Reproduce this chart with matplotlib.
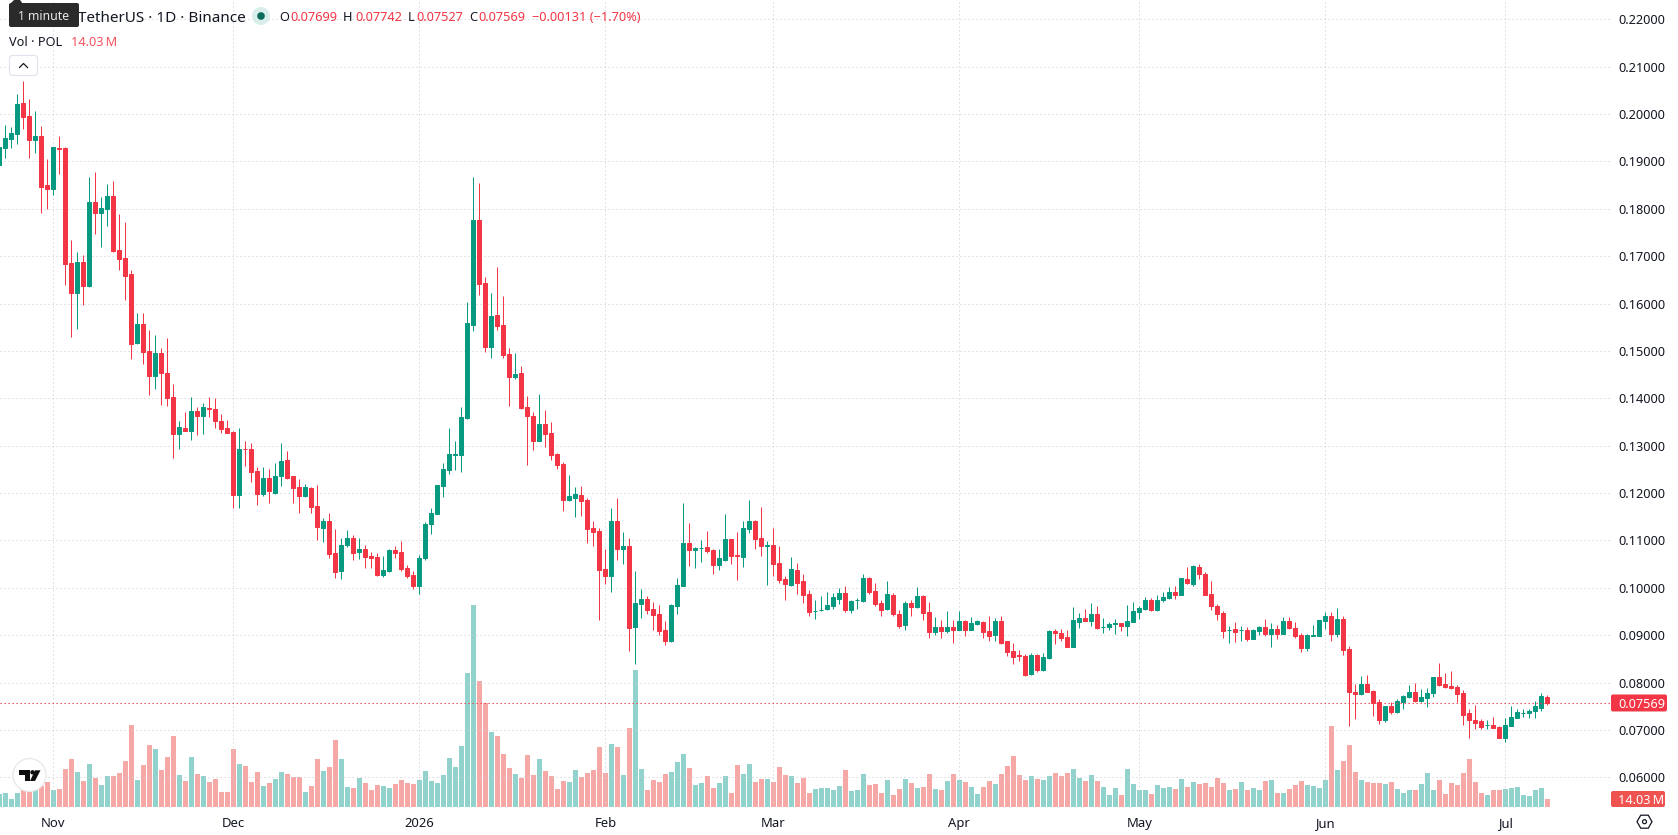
import numpy as np
import pandas as pd
import matplotlib
matplotlib.use("Agg")
import matplotlib.pyplot as plt
import matplotlib.dates as mdates
from matplotlib.patches import FancyBboxPatch, Circle, Polygon, RegularPolygon

dates = pd.date_range("2025-10-23", "2026-07-08")

opens = [
    .1892, .1928, .1947, .1958, .2023, .1996, .1945, .1954, .1850, .1842,
    .1928, .1928, .1685, .1622, .1687, .1637, .1814, .1791, .1799, .1827,
    .1713, .1696, .1662, .1517, .1557, .1500, .1447, .1496, .1454, .1403,
    .1325, .1337, .1331, .1373, .1363, .1379, .1377, .1352, .1337, .1328,
    .1195, .1294, .1292, .1246, .1199, .1231, .1201, .1235, .1269, .1235,
    .1212, .1193, .1210, .1172, .1126, .1141, .1073, .1035, .1090, .1105,
    .1075, .1082, .1067, .1065, .1027, .1035, .1080, .1075, .1042, .1027,
    .1004, .1063, .1134, .1156, .1215, .1249, .1281, .1280, .1358, .1555,
    .1776, .1643, .1508, .1576, .1555, .1494, .1445, .1453, .1382, .1363,
    .1310, .1346, .1327, .1282, .1261, .1185, .1189, .1196, .1185, .1126,
    .1120, .1039, .1025, .1141, .1082, .1088, .0917, .0965, .0976, .0955,
    .0944, .0911, .0887, .0961, .1004, .1094, .1080, .1083, .1086, .1080,
    .1048, .1058, .1103, .1069, .1065, .1124, .1141, .1105, .1089, .1090,
    .1052, .1018, .1006, .1037, .1014, .0987, .0951, .0953, .0955, .0961,
    .0976, .0989, .0953, .0974, .0972, .1020, .0993, .0968, .0955, .0985,
    .0944, .0921, .0968, .0959, .0982, .0949, .0906, .0917, .0908, .0917,
    .0911, .0930, .0911, .0923, .0928, .0908, .0900, .0930, .0887, .0866,
    .0858, .0856, .0818, .0858, .0826, .0852, .0908, .0904, .0896, .0875,
    .0928, .0936, .0930, .0944, .0917, .0917, .0924, .0925, .0919, .0928,
    .0949, .0955, .0974, .0953, .0974, .0978, .0991, .0985, .1018, .1008,
    .1044, .1030, .0987, .0961, .0946, .0910, .0913, .0910, .0911, .0892,
    .0909, .0918, .0903, .0913, .0903, .0930, .0916, .0901, .0873, .0899,
    .0899, .0929, .0941, .0903, .0935, .0870, .0780, .0775, .0796, .0782,
    .0758, .0720, .0750, .0737, .0758, .0769, .0780, .0761, .0767, .0778,
    .0811, .0796, .0792, .0790, .0777, .0735, .0722, .0718, .0710, .0711,
    .0707, .0684, .0709, .0726, .0735, .0735, .0739, .0746, .07699,
]
closes = [
    .1931, .1949, .1960, .2021, .1994, .1945, .1954, .1846, .1842, .1930,
    .1927, .1683, .1622, .1687, .1637, .1814, .1791, .1801, .1827, .1711,
    .1694, .1658, .1514, .1557, .1498, .1447, .1496, .1454, .1401, .1325,
    .1339, .1331, .1373, .1363, .1382, .1378, .1352, .1335, .1327, .1195,
    .1294, .1293, .1244, .1199, .1231, .1204, .1237, .1267, .1231, .1210,
    .1193, .1212, .1170, .1128, .1141, .1071, .1033, .1090, .1105, .1073,
    .1082, .1065, .1063, .1027, .1037, .1080, .1073, .1039, .1025, .1004,
    .1063, .1134, .1158, .1217, .1251, .1282, .1282, .1361, .1559, .1776,
    .1641, .1508, .1574, .1553, .1492, .1445, .1451, .1380, .1363, .1310,
    .1346, .1325, .1280, .1259, .1185, .1194, .1198, .1183, .1124, .1118,
    .1037, .1025, .1141, .1082, .1088, .0915, .0968, .0976, .0953, .0942,
    .0908, .0887, .0963, .1006, .1094, .1080, .1084, .1084, .1077, .1048,
    .1063, .1103, .1067, .1068, .1126, .1141, .1103, .1088, .1090, .1050,
    .1016, .1008, .1039, .1010, .0985, .0949, .0952, .0954, .0963, .0980,
    .0989, .0953, .0972, .0975, .1020, .0991, .0966, .0953, .0987, .0944,
    .0919, .0968, .0959, .0982, .0946, .0906, .0917, .0908, .0917, .0911,
    .0930, .0911, .0925, .0930, .0906, .0898, .0930, .0883, .0864, .0854,
    .0857, .0816, .0858, .0826, .0854, .0908, .0904, .0894, .0875, .0932,
    .0936, .0930, .0944, .0915, .0918, .0923, .0925, .0919, .0930, .0951,
    .0957, .0974, .0953, .0974, .0980, .0991, .0985, .1020, .1010, .1046,
    .1029, .0985, .0961, .0944, .0909, .0911, .0907, .0911, .0892, .0911,
    .0918, .0903, .0913, .0903, .0930, .0915, .0899, .0873, .0901, .0900,
    .0931, .0941, .0903, .0935, .0869, .0780, .0775, .0796, .0780, .0756,
    .0720, .0750, .0737, .0760, .0771, .0780, .0761, .0769, .0778, .0811,
    .0794, .0790, .0788, .0775, .0732, .0720, .0715, .0707, .0711, .0705,
    .0684, .0711, .0728, .0737, .0736, .0741, .0750, .0771, .07569,
]
highs = [
    .1935, .1977, .1973, .2042, .2070, .2032, .2006, .1975, .1905, .1930,
    .1954, .1930, .1734, .1709, .1702, .1867, .1878, .1825, .1852, .1858,
    .1789, .1772, .1671, .1580, .1580, .1544, .1534, .1506, .1527, .1430,
    .1352, .1371, .1403, .1382, .1390, .1403, .1400, .1367, .1354, .1330,
    .1337, .1309, .1305, .1256, .1256, .1250, .1263, .1305, .1288, .1236,
    .1229, .1220, .1212, .1216, .1147, .1158, .1124, .1105, .1122, .1111,
    .1105, .1090, .1075, .1073, .1067, .1081, .1088, .1099, .1048, .1035,
    .1069, .1139, .1168, .1217, .1263, .1337, .1310, .1382, .1603, .1868,
    .1855, .1656, .1622, .1677, .1616, .1506, .1496, .1468, .1405, .1372,
    .1409, .1375, .1350, .1284, .1265, .1238, .1213, .1215, .1189, .1141,
    .1126, .1082, .1168, .1189, .1118, .1105, .1035, .0997, .0982, .0970,
    .0963, .0930, .0965, .1020, .1179, .1137, .1086, .1101, .1120, .1082,
    .1082, .1156, .1104, .1118, .1141, .1185, .1143, .1170, .1098, .1126,
    .1088, .1025, .1065, .1052, .1029, .0995, .0974, .0982, .0991, .0989,
    .1000, .1003, .0974, .0978, .1029, .1022, .1010, .0974, .1014, .0989,
    .0953, .0972, .0974, .1001, .0984, .0970, .0938, .0932, .0951, .0932,
    .0951, .0932, .0938, .0932, .0930, .0940, .0936, .0940, .0888, .0883,
    .0868, .0860, .0862, .0860, .0862, .0910, .0912, .0912, .0910, .0959,
    .0947, .0955, .0968, .0961, .0936, .0927, .0934, .0926, .0964, .0970,
    .0961, .0980, .0978, .0985, .0991, .1001, .1004, .1021, .1044, .1048,
    .1050, .1033, .1014, .0965, .0950, .0920, .0928, .0920, .0918, .0913,
    .0920, .0934, .0926, .0922, .0938, .0938, .0928, .0905, .0903, .0922,
    .0933, .0948, .0948, .0958, .0941, .0877, .0796, .0813, .0815, .0784,
    .0765, .0751, .0758, .0765, .0773, .0794, .0799, .0786, .0788, .0812,
    .0841, .0820, .0824, .0794, .0784, .0745, .0753, .0724, .0722, .0728,
    .0709, .0726, .0751, .0745, .0745, .0745, .0762, .0778, .07742,
]
lows = [
    .1890, .1908, .1928, .1937, .1968, .1907, .1917, .1791, .1799, .1829,
    .1873, .1639, .1530, .1546, .1597, .1635, .1747, .1719, .1763, .1709,
    .1671, .1607, .1483, .1515, .1472, .1407, .1420, .1386, .1384, .1274,
    .1293, .1330, .1312, .1323, .1325, .1361, .1337, .1327, .1326, .1168,
    .1168, .1258, .1223, .1174, .1193, .1180, .1199, .1214, .1229, .1180,
    .1157, .1192, .1157, .1100, .1096, .1063, .1020, .1018, .1086, .1058,
    .1061, .1042, .1042, .1025, .1023, .1034, .1063, .1035, .1020, .0997,
    .0987, .1059, .1113, .1155, .1192, .1240, .1249, .1244, .1356, .1542,
    .1618, .1498, .1485, .1544, .1485, .1384, .1441, .1378, .1259, .1291,
    .1309, .1297, .1270, .1251, .1162, .1183, .1149, .1151, .1094, .1088,
    .0932, .1008, .0991, .1058, .1050, .0866, .0839, .0936, .0944, .0911,
    .0900, .0879, .0886, .0944, .1003, .1046, .1042, .1054, .1073, .1029,
    .1037, .1057, .1050, .1016, .1044, .1115, .1082, .1067, .1006, .1025,
    .1010, .0974, .1004, .0987, .0968, .0940, .0934, .0951, .0953, .0955,
    .0966, .0949, .0946, .0955, .0971, .0987, .0961, .0940, .0954, .0940,
    .0915, .0911, .0940, .0957, .0932, .0894, .0900, .0894, .0904, .0883,
    .0910, .0898, .0910, .0921, .0894, .0887, .0887, .0881, .0856, .0839,
    .0845, .0814, .0816, .0822, .0825, .0850, .0881, .0887, .0874, .0874,
    .0915, .0929, .0919, .0914, .0904, .0911, .0902, .0908, .0898, .0927,
    .0934, .0954, .0952, .0951, .0970, .0976, .0976, .0984, .1008, .1004,
    .1018, .0984, .0953, .0931, .0894, .0884, .0886, .0888, .0888, .0891,
    .0900, .0899, .0875, .0892, .0902, .0913, .0894, .0865, .0867, .0898,
    .0898, .0914, .0888, .0896, .0858, .0709, .0724, .0773, .0779, .0730,
    .0713, .0716, .0733, .0736, .0745, .0767, .0760, .0760, .0748, .0769,
    .0793, .0789, .0786, .0758, .0711, .0682, .0703, .0703, .0701, .0704,
    .0682, .0675, .0708, .0725, .0728, .0725, .0725, .0739, .07527,
]
# volume in millions of POL
volumes = [
    22.8, 24.6, 14.0, 24.6, 29.8, 26.3, 29.8, 36.9, 43.9, 29.8,
    31.6, 66.7, 84.2, 61.4, 45.6, 75.5, 50.9, 38.6, 54.4, 54.4,
    59.7, 80.7, 143.9, 47.4, 73.7, 108.8, 101.8, 64.9, 87.8, 124.6,
    56.2, 45.6, 87.8, 57.9, 54.4, 43.9, 49.1, 26.3, 26.3, 101.8,
    75.5, 72.0, 43.9, 61.4, 36.9, 42.1, 49.1, 61.4, 57.9, 52.6,
    52.6, 26.3, 36.9, 84.2, 63.2, 70.2, 117.6, 84.2, 35.1, 33.3,
    50.9, 42.1, 29.8, 38.6, 36.9, 33.3, 40.4, 47.4, 42.1, 40.4,
    47.4, 63.2, 45.6, 42.1, 56.2, 86.0, 70.2, 107.0, 235.2, 354.5,
    221.1, 182.5, 131.6, 124.6, 93.0, 68.4, 57.9, 50.9, 91.3, 56.2,
    84.2, 63.2, 54.4, 31.6, 45.6, 43.9, 64.9, 52.6, 59.7, 64.9,
    105.3, 59.7, 110.6, 105.3, 56.2, 138.6, 240.4, 66.7, 29.8, 47.4,
    43.9, 57.9, 61.4, 79.0, 93.0, 68.4, 38.6, 42.1, 54.4, 33.3,
    42.1, 54.4, 24.6, 73.7, 57.9, 75.5, 43.9, 49.1, 49.1, 43.9,
    70.2, 56.2, 54.4, 42.1, 50.9, 24.6, 31.6, 33.3, 33.3, 29.8,
    36.9, 64.9, 28.1, 29.8, 57.9, 38.6, 40.4, 24.6, 47.4, 21.1,
    31.6, 49.1, 42.1, 33.3, 35.1, 57.9, 31.6, 29.8, 45.6, 57.9,
    47.4, 43.9, 35.1, 22.8, 35.1, 45.6, 40.4, 57.9, 72.0, 89.5,
    56.2, 47.4, 54.4, 49.1, 47.4, 54.4, 59.7, 54.4, 59.7, 66.7,
    50.9, 45.6, 56.2, 45.6, 35.1, 21.1, 33.3, 21.1, 66.7, 40.4,
    29.8, 29.8, 22.8, 38.6, 33.3, 35.1, 31.6, 49.1, 35.1, 43.9,
    40.4, 42.1, 35.1, 50.9, 42.1, 29.8, 31.6, 43.9, 29.8, 33.3,
    29.8, 45.6, 47.4, 24.6, 24.6, 31.6, 38.6, 45.6, 38.6, 36.9,
    33.3, 47.4, 142.2, 64.9, 80.7, 108.8, 61.4, 47.4, 43.9, 42.1,
    42.1, 40.4, 43.9, 31.6, 24.6, 29.8, 29.8, 40.4, 59.7, 29.8,
    47.4, 22.8, 42.1, 38.6, 59.7, 84.2, 43.9, 24.6, 21.1, 29.8,
    29.8, 31.6, 33.3, 35.1, 21.1, 19.3, 29.8, 33.3, 14.03,
]

price_ticks = [.06, .07, .08, .09, .10, .11, .12, .13, .14, .15, .16, .17, .18, .19, .20, .21, .22]
bold_prices = [.10, .15, .20]
month_starts = ["2025-11-01", "2025-12-01", "2026-01-01", "2026-02-01", "2026-03-01",
                "2026-04-01", "2026-05-01", "2026-06-01", "2026-07-01"]
month_labels = ["Nov", "Dec", "2026", "Feb", "Mar", "Apr", "May", "Jun", "Jul"]

GREEN = "#089981"
RED = "#F23645"
TEXT = "#131722"
GRID = "#cdcfd4"
FONT = "Noto Sans"
W, H = 1678, 835

plt.rcParams["font.family"] = FONT

o = np.array(opens)
c = np.array(closes)
hi = np.array(highs)
lo = np.array(lows)
vol = np.array(volumes)
x = mdates.date2num(dates)
up = c >= o
colors = np.where(up, GREEN, RED)

fig = plt.figure(figsize=(W / 100, H / 100), dpi=100, facecolor="white")

# chart area stops at the price scale on the right and the time scale below
ax = fig.add_axes([0, (H - 807) / H, 1610 / W, 807 / H])
ax_vol = ax.twinx()
ax.set_zorder(ax_vol.get_zorder() + 1)
ax.patch.set_visible(False)
ax_vol.set_zorder(0)

px_per_unit = 4737.5
ax.set_ylim(.22 - (807 - 19.3) / px_per_unit, .22 + 19.3 / px_per_unit)
ax.set_xlim(x[0] + 0.67 / 6, x[0] + 1610.67 / 6)
ax_vol.set_ylim(0, 807 * 14.03 / 8)

# volume goes under the candles
ax_vol.bar(x, vol, width=5 / 6,
           color=np.where(up, "#26a69a", "#ef5350"), alpha=0.5, linewidth=0)
ax_vol.set_yticks([])

ax.vlines(x, lo, hi, colors=colors, linewidth=0.72, zorder=3)
ax.bar(x, np.abs(c - o), bottom=np.minimum(o, c), width=4 / 6,
       color=colors, edgecolor=colors, linewidth=0.72, zorder=4)

ax.axhline(closes[-1], color=RED, linewidth=0.8, linestyle=(0, (1.2, 2.4)), zorder=5)

ax.set_axisbelow(True)
ax.grid(True, color=GRID, linewidth=0.72, linestyle=(0, (1.15, 2.85)))
for spine in list(ax.spines.values()) + list(ax_vol.spines.values()):
    spine.set_visible(False)

# price scale labels, every 0.05 in bold
ax.set_yticks(price_ticks)
ax.tick_params(axis="y", length=0, labelleft=False, labelright=False)
for p in price_ticks:
    ax.text(1 + 8 / 1610, p, f"{p:.5f}", transform=ax.get_yaxis_transform(), fontsize=9.2,
            color=TEXT, va="center_baseline", clip_on=False,
            fontweight="bold" if p in bold_prices else "normal")

ax.set_xticks(mdates.date2num(pd.to_datetime(month_starts)))
ax.set_xticklabels(month_labels, fontsize=9.4, color=TEXT)
ax.tick_params(axis="x", length=0, pad=7)
ax.get_xticklabels()[2].set_fontweight("bold")

# overlay in pixel units for the header, badges and logo
ui = fig.add_axes([0, 0, 1, 1], zorder=10)
ui.set_xlim(0, W)
ui.set_ylim(H, 0)
ui.axis("off")
ui.patch.set_visible(False)

fig.canvas.draw()


def screen_y(axis, value):
    return H - axis.transData.transform((0, value))[1]


def badge(text, x0, x1, yc, height, color):
    ui.add_patch(FancyBboxPatch((x0 + 2, yc - height / 2 + 2), x1 - x0 - 4, height - 4,
                                boxstyle="round,pad=2,rounding_size=2", fc=color, ec="none"))
    ui.text(1618, yc, text, color="white", fontsize=9.2, va="center_baseline", ha="left")


badge(f"{closes[-1]:.5f}", 1611, 1667, screen_y(ax, closes[-1]), 17, RED)
badge(f"{volumes[-1]:.2f}\u2009M", 1611, 1665, 799, 16, "#ef5350")

# legend line
ui.text(78, 16, "TetherUS · 1D · Binance", fontsize=11, color=TEXT, va="center_baseline")
ui.add_patch(Circle((261, 16), 9, fc="#d9eeea", ec="none"))
ui.add_patch(Circle((261, 16), 3.8, fc="#0b6b5b", ec="none"))
for key, kx, val, vx in [("O", 279, "0.07699", 290), ("H", 343, "0.07742", 355),
                         ("L", 408, "0.07527", 416), ("C", 469, "0.07569", 478)]:
    ui.text(kx, 16, key, fontsize=9.2, color=TEXT, va="center_baseline")
    ui.text(vx, 16, val, fontsize=9.2, color=RED, va="center_baseline")
ui.text(532, 16, "−0.00131 (−1.70%)", fontsize=9.2, color=RED, va="center_baseline")

ui.text(9, 41, "Vol · POL", fontsize=9.2, color=TEXT, va="center_baseline")
ui.text(71, 41, f"{volumes[-1]:.2f}\u2009M", fontsize=9.2, color="#f7525f", va="center_baseline")

# collapse button
ui.add_patch(FancyBboxPatch((11.5, 57.5), 24, 16, boxstyle="round,pad=2,rounding_size=3",
                            fc="white", ec="#e0e3eb", lw=0.8))
ui.plot([19.5, 23.5, 27.5], [67.5, 63.5, 67.5], color=TEXT, lw=0.9)

# tooltip over the start of the symbol name
ui.add_patch(FancyBboxPatch((11, 5), 66, 20, boxstyle="round,pad=2,rounding_size=2",
                            fc="#2a2a2a", ec="none", zorder=6))
ui.add_patch(Polygon([[10, 4], [14, 0], [20, 0], [23, 4]], fc="#2a2a2a", ec="none", zorder=6))
ui.text(44, 15.5, "1 minute", color="#e8e8e8", fontsize=8.8, ha="center",
        va="center_baseline", zorder=7)

# TradingView logo badge
ui.add_patch(Circle((29.5, 775), 16.5, fc="white", ec="#e8e8e8", lw=1.0, alpha=0.95, zorder=6))
ui.add_patch(Polygon([[19, 770], [29.5, 770], [29.5, 781], [24.5, 781], [24.5, 774.5], [19, 774.5]],
                     fc="#0f0f0f", ec="none", zorder=7))
ui.add_patch(Circle((32.5, 772.3), 2.2, fc="#0f0f0f", ec="none", zorder=7))
ui.add_patch(Polygon([[35, 770.3], [40.5, 770.3], [35, 781], [30, 781]], fc="#0f0f0f", ec="none", zorder=7))

# settings gear in the corner
ui.add_patch(RegularPolygon((1644.5, 821.7), 6, radius=7.5, orientation=np.pi / 6,
                            fc="none", ec=TEXT, lw=0.9))
ui.add_patch(Circle((1644.5, 821.7), 2, fc="none", ec=TEXT, lw=0.9))

fig.savefig("out.png", dpi=100, facecolor="white")
